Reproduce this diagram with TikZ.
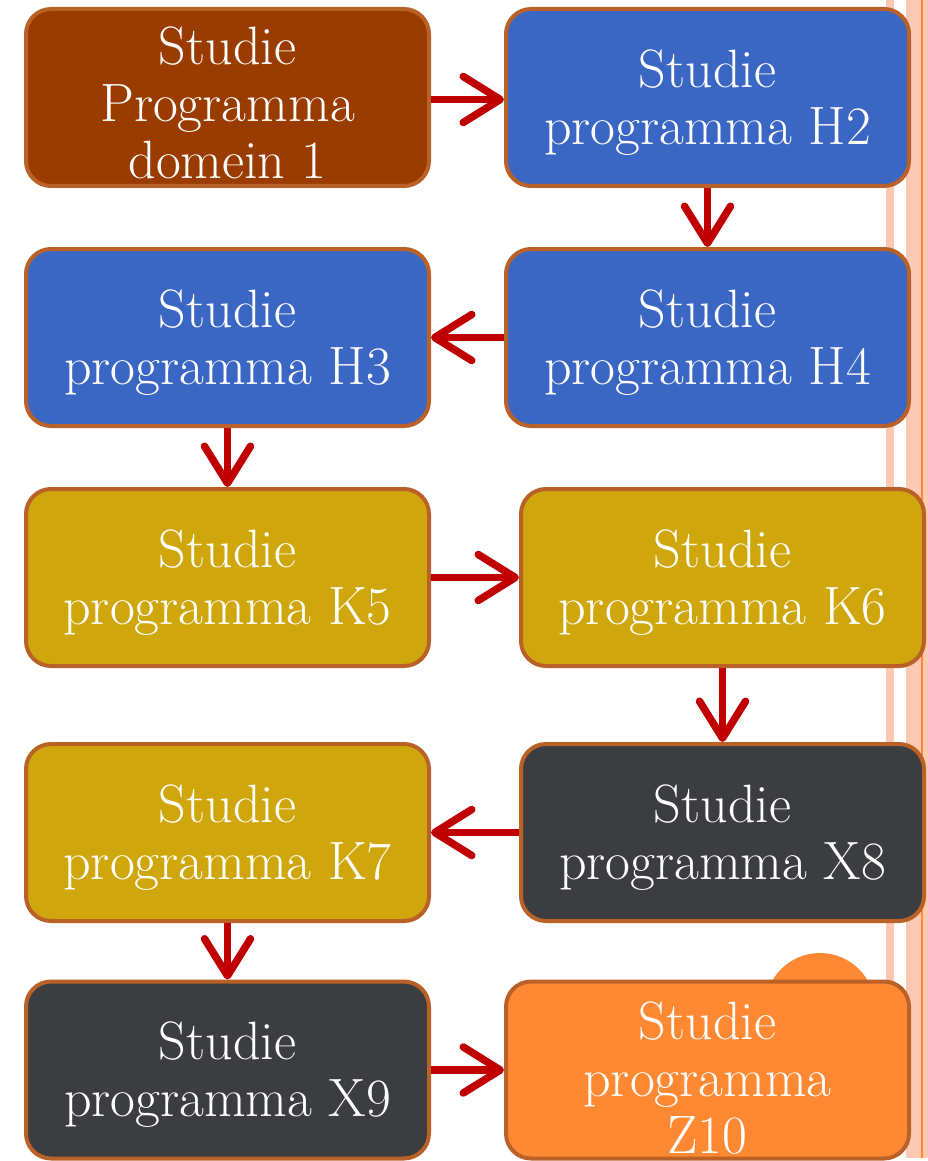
\documentclass[tikz,border=0pt]{standalone}
\usetikzlibrary{arrows.meta}
\definecolor{brd}{HTML}{BA6128}
\definecolor{brownc}{HTML}{9A3B00}
\definecolor{bluec}{HTML}{3A67C4}
\definecolor{yelc}{HTML}{CFA70D}
\definecolor{darkc}{HTML}{3C3D41}
\definecolor{orc}{HTML}{FF8833}
\definecolor{peach}{HTML}{FDC9B3}
\definecolor{arrc}{HTML}{C00000}
\tikzset{
  box/.style={draw=brd, line width=4pt, rounded corners=25pt, minimum width=403pt,
    minimum height=177pt, inner sep=0pt},
  txt/.style={text=white, align=center, inner sep=0pt,
    font=\fontsize{54}{57}\selectfont},
  arr/.style={draw=arrc, line width=7.5pt, -{Straight Barb[length=37pt,width=46pt,round]}}
}
\begin{document}
\begin{tikzpicture}[x=1pt,y=-1pt]
\useasboundingbox (0,0) rectangle (928,1161);
% right decorative stripes
\fill[peach] (886,0) rectangle (894,1158);
\fill[peach] (906,0) rectangle (928,1158);
\fill[orc] (921,0) rectangle (923,1158);
% circle behind last box
\fill[orc] (820,1008) circle (55);
% boxes
\node[box, fill=brownc] (d1) at (227.5,97.5) {};
\node[box, fill=bluec] (h2) at (707.5,97.5) {};
\node[box, fill=bluec] (h3) at (227.5,337.5) {};
\node[box, fill=bluec] (h4) at (707.5,337.5) {};
\node[box, fill=yelc] (k5) at (227.5,577.5) {};
\node[box, fill=yelc] (k6) at (722.5,577.5) {};
\node[box, fill=yelc] (k7) at (227.5,832.5) {};
\node[box, fill=darkc] (x8) at (722.5,832.5) {};
\node[box, fill=darkc] (x9) at (227.5,1070) {};
\node[box, fill=orc] (z10) at (707.5,1070) {};
% texts
\node[txt] (d1t) at ([yshift=-5pt]d1.center) {Studie\\Programma\\domein 1};
\node[txt] (h2t) at ([yshift=-5pt]h2.center) {Studie\\programma H2};
\node[txt] (h3t) at ([yshift=-5pt]h3.center) {Studie\\programma H3};
\node[txt] (h4t) at ([yshift=-5pt]h4.center) {Studie\\programma H4};
\node[txt] (k5t) at ([yshift=-5pt]k5.center) {Studie\\programma K5};
\node[txt] (k6t) at ([yshift=-5pt]k6.center) {Studie\\programma K6};
\node[txt] (k7t) at ([yshift=-5pt]k7.center) {Studie\\programma K7};
\node[txt] (x8t) at ([yshift=-5pt]x8.center) {Studie\\programma X8};
\node[txt] (x9t) at ([yshift=-5pt]x9.center) {Studie\\programma X9};
\node[txt] (z10t) at ([yshift=-8pt]z10.center) {Studie\\programma\\Z10};
% arrows
\draw[arr] ([yshift=-2pt]d1.east) -- ([yshift=-2pt]h2.west);
\draw[arr] (h2.south) -- (h4.north);
\draw[arr] (h4.west) -- (h3.east);
\draw[arr] (h3.south) -- (k5.north);
\draw[arr] (k5.east) -- (k6.west);
\draw[arr] (k6.south) -- (x8.north);
\draw[arr] (x8.west) -- (k7.east);
\draw[arr] (k7.south) -- (x9.north);
\draw[arr] (x9.east) -- (z10.west);
\end{tikzpicture}
\end{document}
